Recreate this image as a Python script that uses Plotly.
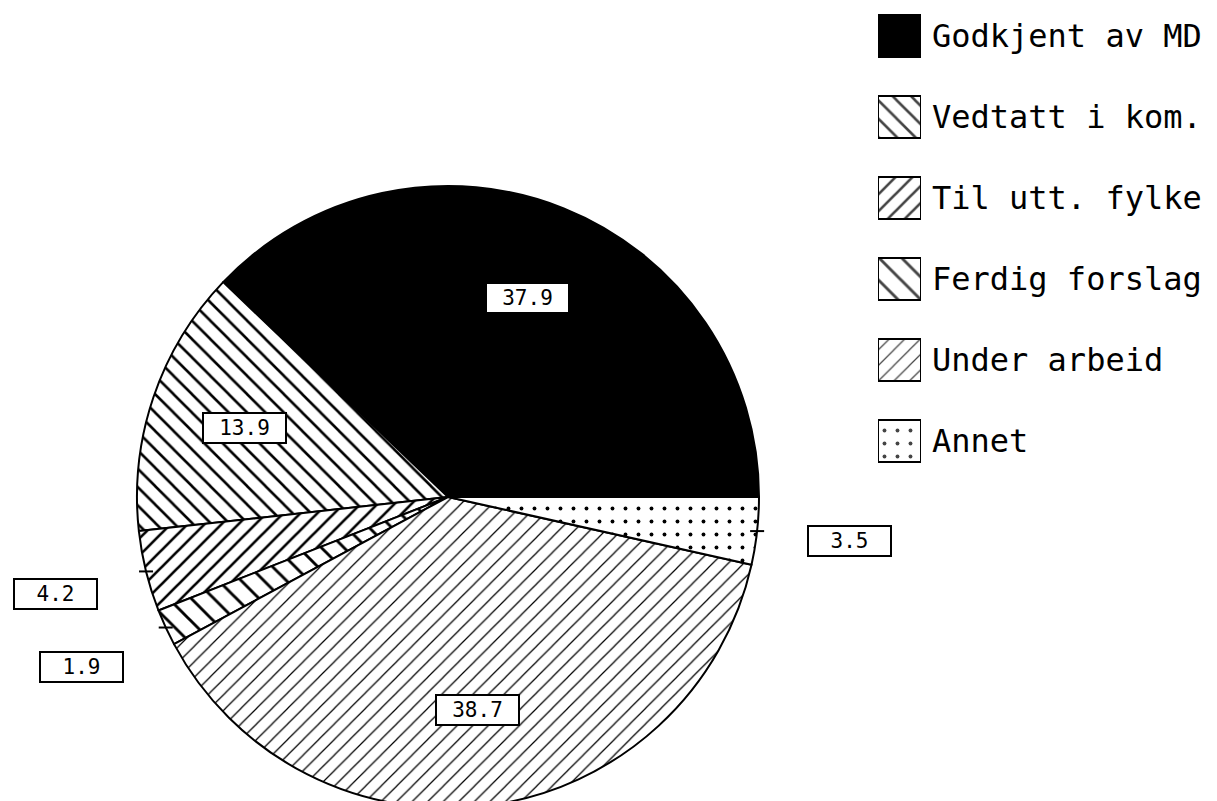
import math
import plotly.graph_objects as go

# ---- data ----
categories = ["Godkjent av MD", "Vedtatt i kom.", "Til utt. fylke",
              "Ferdig forslag", "Under arbeid", "Annet"]
values = [37.9, 13.9, 4.2, 1.9, 38.7, 3.5]
value_labels = ["37.9", "13.9", "4.2", "1.9", "38.7", "3.5"]

# ---- styles ----
fill_colors = ["black", "white", "white", "white", "white", "white"]
pattern_shapes = ["", "\\", "/", "\\", "/", "."]
pattern_sizes = [10, 13, 12, 16, 11, 13]
pattern_solid = [0.2, 0.2, 0.22, 0.18, 0.11, 0.07]
FONT = "DejaVu Sans Mono"

W, H = 1217, 801
CX, CY, R = 440, 489, 311   # figure px (page has 8px body margin)

total = sum(values)
fig = go.Figure()

fig.add_trace(go.Pie(
    labels=categories, values=values, sort=False,
    direction="counterclockwise",
    rotation=90 - 360 * values[0] / total,
    textinfo="none", hoverinfo="label+value", showlegend=False,
    domain=dict(x=[(CX - R) / W, (CX + R) / W],
                y=[(H - CY - R) / H, (H - CY + R) / H]),
    marker=dict(colors=fill_colors,
                line=dict(color="black", width=2),
                pattern=dict(shape=pattern_shapes, size=pattern_sizes,
                             solidity=pattern_solid, fgcolor="black",
                             fgopacity=1, fillmode="overlay")),
))

# legend swatches as bars on a small helper axis
idx = list(range(len(categories)))
fig.add_trace(go.Bar(
    x=[1] * len(categories), y=idx, orientation="h", width=0.53,
    xaxis="x2", yaxis="y2", showlegend=False, hoverinfo="skip",
    marker=dict(color=fill_colors, line=dict(color="black", width=2),
                pattern=dict(shape=pattern_shapes, size=pattern_sizes,
                             solidity=pattern_solid, fgcolor="black",
                             fgopacity=1, fillmode="overlay")),
))

# value boxes placed from slice angles
cum = 0.0
annotations = []
shapes = []
for v, lab in zip(values, value_labels):
    mid = (cum + v / 2) / total * 2 * math.pi
    cum += v
    outside = v / total < 0.05
    r = 1.3 * R if outside else 0.69 * R
    xp = CX + r * math.cos(mid)
    yp = CY - r * math.sin(mid)
    annotations.append(dict(
        x=xp / W, y=1 - yp / H, xref="paper", yref="paper",
        xanchor="center", yanchor="middle",
        text=lab, showarrow=False, font=dict(family=FONT, size=21, color="black"),
        bgcolor="white", bordercolor="black", borderwidth=2,
        width=79, height=26, borderpad=1))
    if outside:
        ex = CX + R * math.cos(mid)
        ey = CY - R * math.sin(mid)
        shapes.append(dict(type="line", xref="paper", yref="paper",
                           x0=(ex - 7) / W, x1=(ex + 7) / W,
                           y0=1 - ey / H, y1=1 - ey / H,
                           line=dict(color="black", width=2)))

fig.update_layout(
    width=W, height=H,
    margin=dict(l=0, r=0, t=0, b=0),
    paper_bgcolor="white", plot_bgcolor="white",
    xaxis2=dict(domain=[870 / W, 913 / W], range=[0, 1], visible=False,
                anchor="y2", fixedrange=True),
    yaxis2=dict(domain=[1 - 480 / H, 1], range=[5.580, -0.346],
                anchor="x2", side="right", tickvals=idx, ticktext=categories,
                showgrid=False, zeroline=False, showline=False, ticks="",
                ticklabelstandoff=10, automargin=False,
                tickfont=dict(family=FONT, size=32, color="black"),
                fixedrange=True),
    annotations=annotations,
    shapes=shapes,
    bargap=0,
)

fig.write_html("out.html")
